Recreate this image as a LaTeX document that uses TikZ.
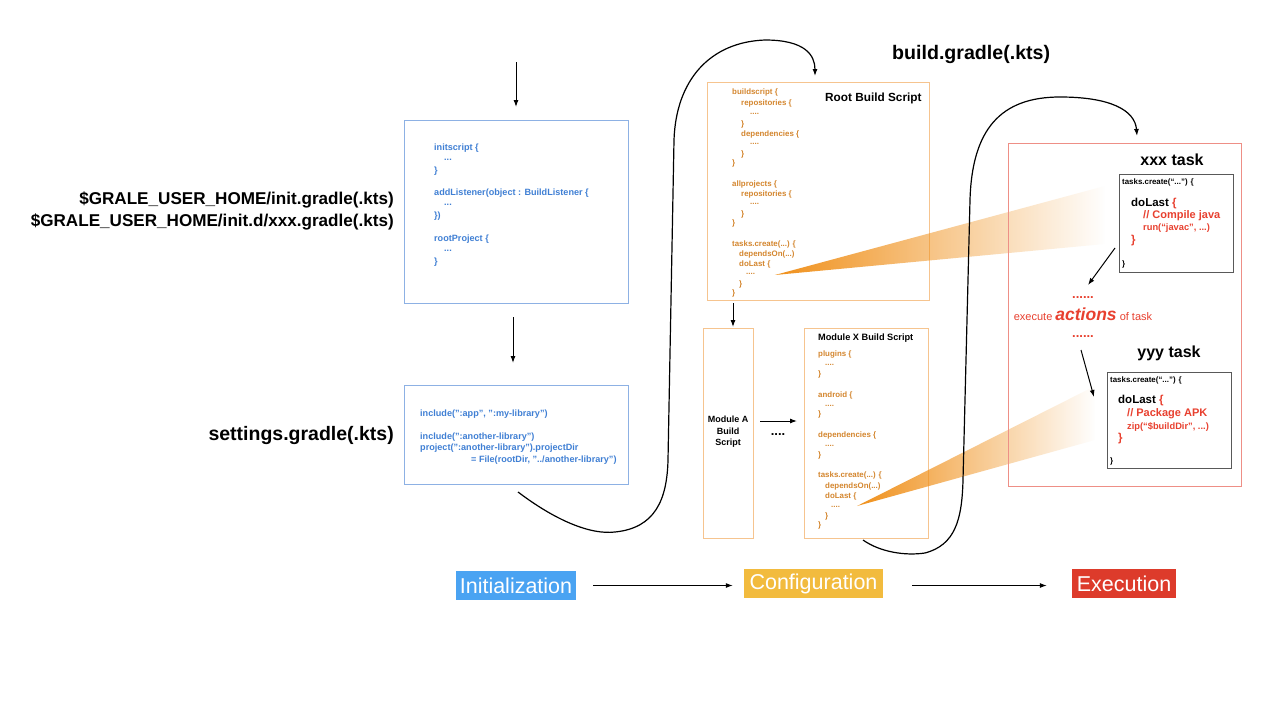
\documentclass[tikz,border=0pt]{standalone}
\usepackage{fontspec}
\setmainfont{Liberation Sans}
\usetikzlibrary{arrows.meta,fadings}
\definecolor{cblue}{HTML}{3F7FD4}
\definecolor{bblue}{HTML}{8DB1E4}
\definecolor{corange}{HTML}{D4862E}
\definecolor{borange}{HTML}{F6C48F}
\definecolor{bred}{HTML}{EE8F86}
\definecolor{cred}{HTML}{E8402F}
\definecolor{pblue}{HTML}{4AA3F2}
\definecolor{pyellow}{HTML}{F2BB3E}
\definecolor{pred}{HTML}{DD3B2B}
\definecolor{wedge}{HTML}{F0901A}
\tikzfading[name=wfade, left color=transparent!0, right color=transparent!100]
\tikzset{
  arr/.style={-{Latex[length=7pt,width=5pt]}, line width=1pt, black},
  codeb/.style={anchor=west, inner sep=0pt, text=cblue, font=\fontsize{9.1}{10}\selectfont\bfseries},
  codeo/.style={anchor=west, inner sep=0pt, text=corange, font=\fontsize{7.9}{9}\selectfont\bfseries},
  lbl/.style={anchor=east, inner sep=0pt, font=\fontsize{17.1}{18}\selectfont\bfseries},
  boxb/.style={draw=bblue, line width=1pt},
  boxo/.style={draw=borange, line width=1pt},
  boxr/.style={draw=bred, line width=1pt},
  boxk/.style={draw=black!65, line width=0.9pt},
  ttl/.style={inner sep=0pt, font=\fontsize{11.8}{13}\selectfont\bfseries},
  tsk/.style={inner sep=0pt, font=\fontsize{16}{18}\selectfont\bfseries},
  tk/.style={anchor=west, inner sep=0pt, font=\fontsize{7.9}{9}\selectfont\bfseries},
  tkr/.style={anchor=west, inner sep=0pt, text=cred, font=\fontsize{11}{13}\selectfont\bfseries},
  phase/.style={inner xsep=2pt, inner ysep=0pt, minimum height=29pt, text=white, font=\fontsize{21.5}{23}\selectfont},
  curve/.style={line width=1.2pt, black, -{Latex[length=7pt,width=5pt]}},
}
\begin{document}
\begin{tikzpicture}[x=1pt,y=-1pt]
\useasboundingbox (0,0) rectangle (1280,720);
\fill[white] (0,0) rectangle (1280,720);

% ---------- left labels
\node[lbl] (l1) at (394,200) {\$GRALE\_USER\_HOME/init.gradle(.kts)};
\node[lbl] (l2) at (394,222) {\$GRALE\_USER\_HOME/init.d/xxx.gradle(.kts)};
\node[lbl, font=\fontsize{19.5}{21}\selectfont\bfseries] (l3) at (394,435) {settings.gradle(.kts)};
\node[inner sep=0pt, anchor=west, font=\fontsize{19.6}{21}\selectfont\bfseries] (bg) at (892,54) {build.gradle(.kts)};

% ---------- init box
\draw[boxb] (404,120) rectangle (628,303);
\coordinate (initTop) at (516,120);
\coordinate (initBot) at (513,303);
\foreach \yy/\xx/\tt [count=\k] in {148/434/{initscript \{},160/444/{...},171/434/{\}},193/434/{addListener(object : BuildListener \{},205/444/{...},216/434/{\})},239/434/{rootProject \{},251/444/{...},262/434/{\}}}
  \node[codeb] (ib\k) at (\xx,\yy) {\tt};

% ---------- settings box
\draw[boxb] (404,385) rectangle (628,484);
\coordinate (setTop) at (513,385);
\node[codeb] (s1) at (420,414) {include(":app", ":my-library")};
\node[codeb] (s2) at (420,437) {include(":another-library")};
\node[codeb] (s3) at (420,448) {project(":another-library").projectDir};
\node[codeb] (s4) at (471,460) {= File(rootDir, "../another-library")};

\coordinate (topStart) at (516,62);
\draw[arr, shorten >=13pt] (topStart) -- (initTop);
\draw[arr, shorten <=14pt, shorten >=22pt] (initBot) -- (setTop);

% ---------- root build script
\draw[boxo] (707,82) rectangle (929,300);
\node[ttl, anchor=west] (rbs) at (825,98) {Root Build Script};
\foreach \yy/\xx/\tt [count=\k] in {92/732/{buildscript \{},103/741/{repositories \{},114/750/{....},124/741/{\}},134/741/{dependencies \{},144/750/{....},154/741/{\}},163/732/{\}},184/732/{allprojects \{},194/741/{repositories \{},204/750/{....},214/741/{\}},223/732/{\}},244/732/{tasks.create(...) \{},254/739/{dependsOn(...)},264/739/{doLast \{},274/746/{....},284/739/{\}},293/732/{\}}}
  \node[codeo] (rb\k) at (\xx,\yy) {\tt};

% ---------- module A
\draw[boxo] (703,328) rectangle (753,538);
\node[ttl, font=\fontsize{9}{11.5}\selectfont\bfseries, align=center] (ma) at (728,432) {Module A\\Build\\Script};
\coordinate (rootBot) at (733,300);
\coordinate (maTop) at (733,328);
\draw[arr, shorten <=3pt, shorten >=1pt] (rootBot) -- (maTop);

% ---------- module X
\draw[boxo] (804,328) rectangle (928,538);
\node[ttl, anchor=west, font=\fontsize{9.2}{11}\selectfont\bfseries] (mx) at (818,338) {Module X Build Script};
\foreach \yy/\xx/\tt [count=\k] in {354/818/{plugins \{},365/825/{....},374/818/{\}},395/818/{android \{},406/825/{....},414/818/{\}},435/818/{dependencies \{},446/825/{....},455/818/{\}},475/818/{tasks.create(...) \{},486/825/{dependsOn(...)},496/825/{doLast \{},507/831/{....},516/825/{\}},525/818/{\}}}
  \node[codeo] (mx\k) at (\xx,\yy) {\tt};
\coordinate (maR) at (760,421);
\coordinate (mxL) at (797,421);
\draw[arr] (maR) -- (mxL);
\node[inner sep=0pt, font=\fontsize{13}{13}\selectfont\bfseries] (dots) at (778,435) {....};

% ---------- wedges
\fill[wedge, path fading=wfade] (775,275) -- (1105,186) -- (1105,244) -- cycle;
\fill[wedge, path fading=wfade] (857,506) -- (1095,386) -- (1095,440) -- cycle;

% ---------- execution box
\draw[boxr] (1008,143) rectangle (1241,486);
\node[tsk] (xt) at (1172,160) {xxx task};
\draw[boxk, fill=white] (1119,174) rectangle (1233,272);
\node[tk] (t1a) at (1122,182) {tasks.create(“...”) \{};
\node[tk, font=\fontsize{11.5}{13}\selectfont\bfseries] (t1b) at (1131,204) {doLast \textcolor{cred}{\{}};
\node[tkr] (t1c) at (1143,216) {// Compile java};
\node[tkr, font=\fontsize{9.3}{11}\selectfont\bfseries] (t1d) at (1143,228) {run(“javac”, ...)};
\node[tkr, font=\fontsize{11.5}{13}\selectfont\bfseries] (t1e) at (1131,241) {\}};
\node[tk] (t1f) at (1122,264) {\}};

\node[inner sep=0pt, text=cred, font=\fontsize{13}{13}\selectfont\bfseries] (d1) at (1083,298) {......};
\node[inner sep=0pt, text=cred, font=\fontsize{11}{13}\selectfont] (ex) at (1083,314) {execute \textbf{\textit{\fontsize{17.5}{18}\selectfont actions}} of task};
\node[inner sep=0pt, text=cred, font=\fontsize{13}{13}\selectfont\bfseries] (d2) at (1083,337) {......};

\node[tsk] (yt) at (1169,353) {yyy task};
\draw[boxk, fill=white] (1107,372) rectangle (1231,468);
\node[tk] (t2a) at (1110,380) {tasks.create(“...”) \{};
\node[tk, font=\fontsize{11.5}{13}\selectfont\bfseries] (t2b) at (1118,401) {doLast \textcolor{cred}{\{}};
\node[tkr] (t2c) at (1127,414) {// Package APK};
\node[tkr, font=\fontsize{9.3}{11}\selectfont\bfseries] (t2d) at (1127,427) {zip(“\$buildDir”, ...)};
\node[tkr, font=\fontsize{11.5}{13}\selectfont\bfseries] (t2e) at (1118,439) {\}};
\node[tk] (t2f) at (1110,461) {\}};

\coordinate (e1s) at (1115,248);
\coordinate (e1e) at (1088,285);
\draw[arr] (e1s) -- (e1e);
\coordinate (e2s) at (1081,350);
\coordinate (e2e) at (1094,397);
\draw[arr] (e2s) -- (e2e);

% ---------- curves
\coordinate (c1s) at (518,492);
\coordinate (c1e) at (815,76);
\draw[curve] (c1s) .. controls (555,520) and (590,535) .. (615,532)
  .. controls (655,528) and (667,500) .. (668,460) -- (674,140)
  .. controls (676,80) and (710,42) .. (765,40)
  .. controls (805,40) and (815,55) .. (c1e);
\coordinate (c2s) at (863,540);
\coordinate (c2e) at (1137,136);
\draw[curve] (c2s) .. controls (880,552) and (905,556) .. (925,553)
  .. controls (955,545) and (962,520) .. (963,480) -- (970,200)
  .. controls (972,130) and (1000,97) .. (1060,97)
  .. controls (1110,97) and (1135,110) .. (c2e);

% ---------- phases
\node[phase, fill=pblue, minimum width=120pt] (pi) at (516,585.5) {Initialization};
\node[phase, fill=pyellow, minimum width=139pt] (pc) at (813.5,583.5) {Configuration};
\node[phase, fill=pred, minimum width=104pt] (pe) at (1124,583.5) {Execution};
\draw[arr, shorten <=17pt, shorten >=11pt] (pi.east) -- (pc.west |- pi.east);
\draw[arr, shorten <=29pt, shorten >=25pt] (pc.east |- pi.east) -- (pe.west |- pi.east);
\end{tikzpicture}
\end{document}
